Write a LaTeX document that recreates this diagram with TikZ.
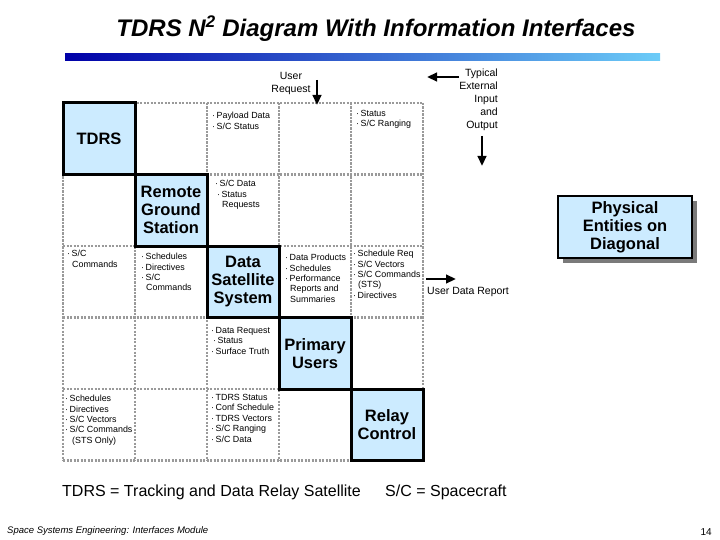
\documentclass[tikz,border=0pt]{standalone}
\usepackage{fontspec}
\setmainfont{Liberation Sans}
\usetikzlibrary{arrows.meta}
\definecolor{boxblue}{HTML}{CCEBFF}
\definecolor{gridgray}{HTML}{9A9A9A}
\definecolor{barl}{HTML}{0000A8}
\definecolor{barr}{HTML}{6CCCF8}
\definecolor{shadowgray}{HTML}{7A7A7A}
\newcommand{\bl}{·\,}
\begin{document}
\begin{tikzpicture}[x=1pt,y=-1pt,
  gridline/.style={draw=gridgray,line width=2.6pt,dash pattern=on 2.2pt off 1.3pt},
  entity/.style={draw=black,fill=boxblue,line width=3pt,minimum width=72pt,minimum height=71.5pt,
    inner sep=0pt,align=center,font=\fontsize{16.5}{18}\selectfont\bfseries},
  celltext/.style={anchor=north west,inner sep=0pt,align=left,font=\fontsize{8.9}{10.4}\selectfont},
  labeltext/.style={inner sep=0pt,font=\fontsize{10.5}{13}\selectfont},
  bigarrow/.style={line width=2.5pt,-{Triangle[length=10pt,width=8.5pt]}}]
\useasboundingbox (0,0) rectangle (720,540);
% title and bar
\node[anchor=base,inner sep=0pt,font=\fontsize{24}{28}\selectfont\bfseries\itshape] (title) at (376,37)
  {TDRS N\textsuperscript{2} Diagram With Information Interfaces};
\shade[left color=barl,right color=barr] (65,54) rectangle (660,61);
% grid
\foreach \i in {0,...,5} {
  \draw[gridline] ({63+72*\i},103) -- ({63+72*\i},460.5);
  \draw[gridline] (63,{103+71.5*\i}) -- (423,{103+71.5*\i});
}
% diagonal entities
\node[entity] (tdrs) at (99,138.75) {TDRS};
\node[entity] (rgs) at (171,210.25) {Remote\\Ground\\Station};
\node[entity] (dss) at (243,281.75) {Data\\Satellite\\System};
\node[entity] (pu) at (315,353.25) {Primary\\Users};
\node[entity] (rc) at (387,424.75) {Relay\\Control};
% cell texts
\node[celltext] (c13) at (212,112) {\bl Payload Data\\\bl S/C Status};
\node[celltext] (c15) at (356,110) {\bl Status\\\bl S/C Ranging};
\node[celltext] (c23) at (215,180) {\bl S/C Data\\\hspace{2pt}\bl Status\\\hspace{7pt}Requests};
\node[celltext] (c31) at (67,250) {\bl S/C\\\hspace{5pt}Commands};
\node[celltext] (c32) at (141,253) {\bl Schedules\\\bl Directives\\\bl S/C\\\hspace{5pt}Commands};
\node[celltext] (c34) at (285,254) {\bl Data Products\\\bl Schedules\\\bl Performance\\\hspace{5pt}Reports and\\\hspace{5pt}Summaries};
\node[celltext] (c35) at (353,250) {\bl Schedule Req\\\bl S/C Vectors\\\bl S/C Commands\\\hspace{5pt}(STS)\\\bl Directives};
\node[celltext] (c43) at (211,327) {\bl Data Request\\\hspace{2pt}\bl Status\\\bl Surface Truth};
\node[celltext] (c51) at (65,395) {\bl Schedules\\\bl Directives\\\bl S/C Vectors\\\bl S/C Commands\\\hspace{7pt}(STS Only)};
\node[celltext] (c53) at (211,394) {\bl TDRS Status\\\bl Conf Schedule\\\bl TDRS Vectors\\\bl S/C Ranging\\\bl S/C Data};
% external labels and arrows
\node[labeltext,align=center] (ureq) at (291,83) {User\\Request};
\coordinate (ureqa) at (317,80);
\coordinate (ureqb) at (317,105);
\draw[bigarrow] (ureqa) -- (ureqb);
\node[labeltext,align=right,anchor=north east] (typ) at (498,69) {Typical\\External\\Input\\and\\Output};
\coordinate (ina) at (459,77);
\coordinate (inb) at (427,77);
\draw[bigarrow] (ina) -- (inb);
\coordinate (outa) at (482,136);
\coordinate (outb) at (482,166);
\draw[bigarrow] (outa) -- (outb);
\coordinate (udra) at (426,279);
\coordinate (udrb) at (456,279);
\draw[bigarrow] (udra) -- (udrb);
\node[labeltext,anchor=west] (udr) at (427,292) {User Data Report};
% legend box
\fill[shadowgray] (563,201) rectangle (697,263);
\node[draw=black,fill=boxblue,line width=2.5pt,minimum width=134pt,minimum height=62pt,inner sep=0pt,
  align=center,font=\fontsize{16.5}{18}\selectfont\bfseries] (phys) at (625,227) {Physical\\Entities on\\Diagonal};
% footer
\node[anchor=base west,inner sep=0pt,font=\fontsize{16}{18}\selectfont] (abbr1) at (62,496) {TDRS = Tracking and Data Relay Satellite};
\node[anchor=base west,inner sep=0pt,font=\fontsize{16}{18}\selectfont] (abbr2) at (385,496) {S/C = Spacecraft};
\node[anchor=base west,inner sep=0pt,font=\fontsize{9.5}{11}\selectfont\itshape] (foot) at (7,533) {Space Systems Engineering: Interfaces Module};
\node[anchor=base east,inner sep=0pt,font=\fontsize{10}{12}\selectfont] (pg) at (712,535) {14};
\end{tikzpicture}
\end{document}
